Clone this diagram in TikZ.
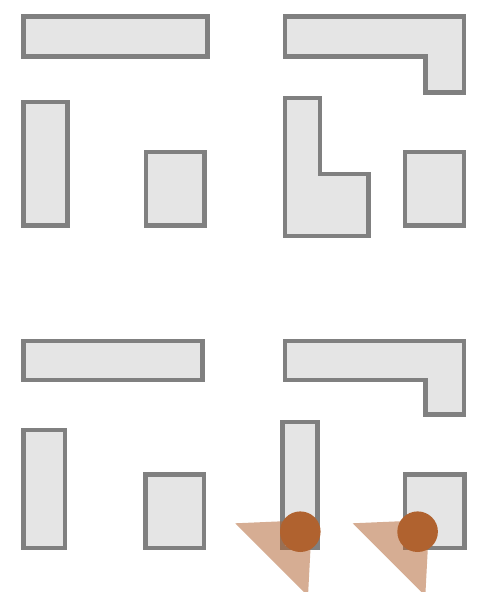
\documentclass[tikz,border=0pt]{standalone}
\definecolor{wallfill}{HTML}{E5E5E5}
\definecolor{wallline}{HTML}{808080}
\definecolor{rust}{HTML}{B0622F}
\tikzset{
  wall/.style={draw=wallline,line width=4.6pt,fill=wallfill,miter limit=10},
  cone/.style={fill=rust,opacity=.52},
  robot/.style={fill=rust},
}
\begin{document}
\begin{tikzpicture}[x=1pt,y=-1pt]
  \useasboundingbox (0,0) rectangle (497,592);
  \clip (0,0) rectangle (497,592);
  % top left
  \draw[wall] (23.3,16.6) rectangle (207.4,56.7);
  \draw[wall] (23.3,101.9) rectangle (67.4,225.4);
  \draw[wall] (145.9,151.9) rectangle (204.7,225.4);
  % top right
  \draw[wall] (284.9,16.6) -- (464.1,16.6) -- (464.1,92.7) -- (425.3,92.7) -- (425.3,56.7) -- (284.9,56.7) -- cycle;
  \draw[wall] (284.9,97.9) -- (320,97.9) -- (320,174) -- (368.7,174) -- (368.7,236.1) -- (284.9,236.1) -- cycle;
  \draw[wall] (404.9,151.9) rectangle (464.1,225.4);
  % bottom left
  \draw[wall] (23.3,340.9) rectangle (202.7,380.1);
  \draw[wall] (23.3,429.9) rectangle (65.1,548.1);
  \draw[wall] (145.3,474.6) rectangle (204.1,548.1);
  % bottom right
  \draw[wall] (284.9,340.9) -- (464.1,340.9) -- (464.1,414.7) -- (425.3,414.7) -- (425.3,380.1) -- (284.9,380.1) -- cycle;
  \draw[wall] (282.6,421.9) rectangle (317.7,548.1);
  \draw[wall] (404.9,474.6) rectangle (464.4,548.1);
  % robots with their view
  \foreach \dx in {0,117.3} {
    \fill[cone] (235.3+\dx,523.3) -- (312+\dx,520) -- (308+\dx,596) -- cycle;
    \fill[robot] (300.3+\dx,531.7) circle (20.3);
  }
\end{tikzpicture}
\end{document}
